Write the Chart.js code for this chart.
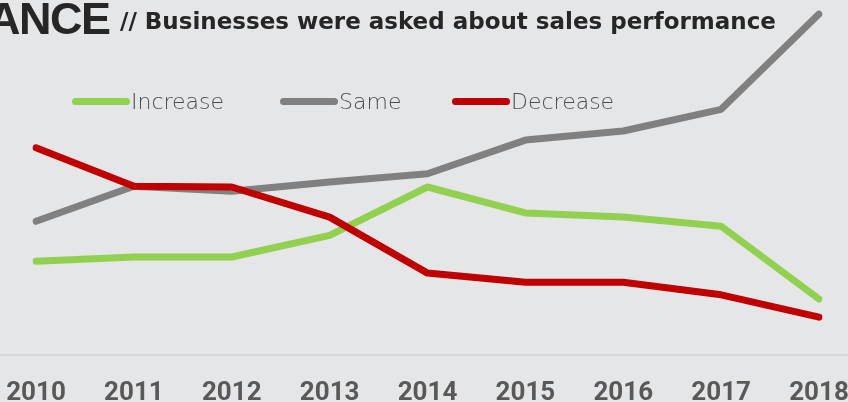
<!DOCTYPE html>
<html>
<head>
<meta charset="utf-8">
<script src="https://cdn.jsdelivr.net/npm/chart.js@4"></script>
<style>
  html, body { margin: 0; padding: 0; background: #e5e6e8; }
  #wrap { position: relative; width: 848px; height: 402px; overflow: hidden; }
  #big { position: absolute; left: -12px; top: -7px; font: bold 45px "Liberation Sans", sans-serif; color: #262626; letter-spacing: -1.5px; }
  #sub { position: absolute; left: 120px; top: 8px; font: bold 23px "DejaVu Sans", sans-serif; color: #262626; white-space: nowrap; }
  .item { position: absolute; top: 89px; display: flex; align-items: center; font: 200 22px "DejaVu Sans", sans-serif; color: #4d4d4d; white-space: nowrap; }
  .swatch { width: 58px; height: 7px; border-radius: 4px; margin-right: 1px; }
</style>
</head>
<body>
<div id="wrap">
  <canvas id="chart" width="848" height="402"></canvas>
  <div id="big">ANCE</div>
  <div id="sub">// Businesses were asked about sales performance</div>
  <div id="legend"></div>
</div>
<script>
// Données (unités arbitraires, 0 = axe)
const years = ['2010', '2011', '2012', '2013', '2014', '2015', '2016', '2017', '2018'];
const increase = [13.4, 14.0, 14.0, 17.1, 24.0, 20.3, 19.7, 18.4, 8.0];
const same = [19.1, 24.1, 23.4, 24.7, 25.9, 30.7, 32.0, 35.1, 48.7];
const decrease = [29.6, 24.1, 24.0, 19.7, 11.7, 10.4, 10.4, 8.6, 5.4];

const seriesNames = ['Increase', 'Same', 'Decrease'];
const seriesColors = ['#92d050', '#808080', '#c00000'];
const legendLeft = [72, 280, 452];

// Légende en HTML
const legendEl = document.getElementById('legend');
seriesNames.forEach((name, i) => {
    const item = document.createElement('div');
    item.className = 'item';
    item.style.left = legendLeft[i] + 'px';
    item.innerHTML = `<span class="swatch" style="background:${seriesColors[i]}"></span>${name}`;
    legendEl.appendChild(item);
});

// Ligne de l'axe sur toute la largeur
const axisLine = {
    id: 'axisLine',
    beforeDatasetsDraw(chart) {
        const { ctx, chartArea } = chart;
        ctx.save();
        ctx.strokeStyle = '#d6d7d9';
        ctx.lineWidth = 2;
        ctx.beginPath();
        ctx.moveTo(0, chartArea.bottom);
        ctx.lineTo(chart.width, chartArea.bottom);
        ctx.stroke();
        ctx.restore();
    }
};

const makeSet = (i, data, order) => ({
    label: seriesNames[i],
    data: data,
    borderColor: seriesColors[i],
    backgroundColor: seriesColors[i],
    borderWidth: 7,
    borderCapStyle: 'round',
    borderJoinStyle: 'round',
    pointRadius: 0,
    tension: 0,
    order: order
});

new Chart(document.getElementById('chart'), {
    type: 'line',
    data: {
        labels: years,
        datasets: [
            makeSet(0, increase, 3),
            makeSet(1, same, 2),
            makeSet(2, decrease, 1)
        ]
    },
    options: {
        responsive: false,
        animation: false,
        layout: { padding: { left: 36, right: 29, top: 5, bottom: 0 } },
        plugins: { legend: { display: false }, tooltip: { enabled: false } },
        scales: {
            x: {
                offset: false,
                grid: { display: false },
                border: { display: false },
                ticks: {
                    color: '#595959',
                    font: { family: 'Roboto', weight: 'bold', size: 26 },
                    padding: 15,
                    maxRotation: 0
                },
                afterFit: (s) => {
                    s.height = 47;
                    s.paddingLeft = 0;
                    s.paddingRight = 0;
                }
            },
            y: {
                display: false,
                min: 0,
                max: 50
            }
        }
    },
    plugins: [axisLine]
});
</script>
</body>
</html>
